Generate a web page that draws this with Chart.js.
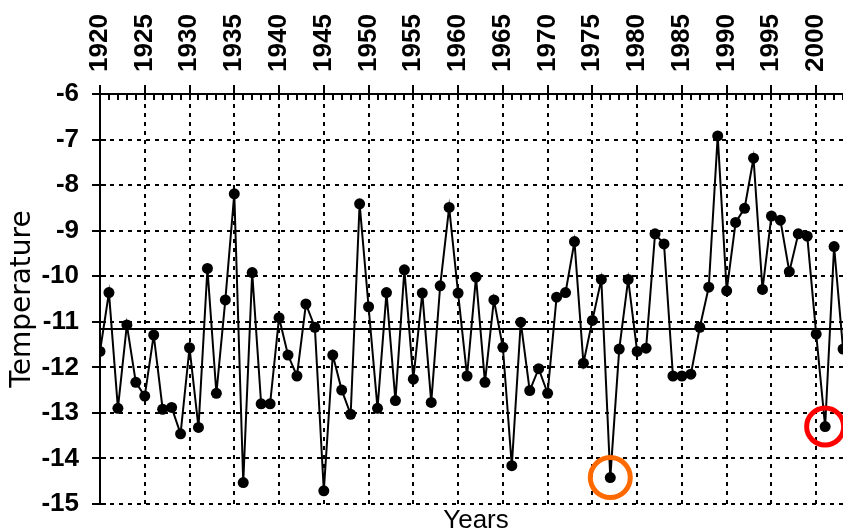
<!DOCTYPE html>
<html>
<head>
<meta charset="utf-8">
<title>Temperature 1920-2003</title>
<script src="https://cdn.jsdelivr.net/npm/chart.js@4.4.1/dist/chart.umd.min.js"></script>
<style>
  html, body { margin: 0; padding: 0; background: #fff; overflow: hidden; }
  #chart { display: block; }
</style>
</head>
<body>
<canvas id="chart" width="852" height="545"></canvas>
<script>
// Yearly temperatures
const YEARS = [
  1920, 1921, 1922, 1923, 1924, 1925, 1926, 1927, 1928, 1929,
  1930, 1931, 1932, 1933, 1934, 1935, 1936, 1937, 1938, 1939,
  1940, 1941, 1942, 1943, 1944, 1945, 1946, 1947, 1948, 1949,
  1950, 1951, 1952, 1953, 1954, 1955, 1956, 1957, 1958, 1959,
  1960, 1961, 1962, 1963, 1964, 1965, 1966, 1967, 1968, 1969,
  1970, 1971, 1972, 1973, 1974, 1975, 1976, 1977, 1978, 1979,
  1980, 1981, 1982, 1983, 1984, 1985, 1986, 1987, 1988, 1989,
  1990, 1991, 1992, 1993, 1994, 1995, 1996, 1997, 1998, 1999,
  2000, 2001, 2002, 2003
];
const TEMPS = [
  -11.65, -10.36, -12.90, -11.07, -12.33, -12.63, -11.29, -12.92, -12.88, -13.46,
  -11.57, -13.32, -9.83, -12.57, -10.52, -8.19, -14.53, -9.92, -12.80, -12.80,
  -10.91, -11.73, -12.19, -10.61, -11.12, -14.71, -11.73, -12.50, -13.03, -8.41,
  -10.67, -12.90, -10.36, -12.73, -9.86, -12.26, -10.37, -12.77, -10.21, -8.49,
  -10.37, -12.19, -10.02, -12.33, -10.52, -11.56, -14.16, -11.01, -12.51, -12.03,
  -12.57, -10.46, -10.36, -9.24, -11.91, -10.97, -10.07, -14.42, -11.60, -10.07,
  -11.65, -11.58, -9.07, -9.29, -12.19, -12.19, -12.15, -11.12, -10.24, -6.92,
  -10.32, -8.82, -8.51, -7.41, -10.29, -8.68, -8.77, -9.90, -9.07, -9.12,
  -11.27, -13.30, -9.35, -11.60
];
const MEAN_TEMP = -11.16;

// Circled years and their ring colours
const MARKED_YEARS = [1977, 2001];
const MARK_COLORS = ['#FF6A00', '#FF0000'];
const MARK_RADII = [20, 18.5];

// Tick labels
const X_TICKS = [1920, 1925, 1930, 1935, 1940, 1945, 1950, 1955, 1960, 1965,
                 1970, 1975, 1980, 1985, 1990, 1995, 2000];
const Y_TICKS = [-15, -14, -13, -12, -11, -10, -9, -8, -7, -6];
const X_MIN = 1920, X_MAX = 2004;

const LABEL_FONT = { family: 'Liberation Sans', size: 26, weight: 'bold' };

// Small inward ticks: one per year on the top axis, one per degree on the left axis
const minorTicks = {
  id: 'minorTicks',
  beforeDatasetsDraw(chart) {
    const { ctx, chartArea, scales } = chart;
    ctx.save();
    ctx.strokeStyle = '#000';
    ctx.lineWidth = 2;
    ctx.beginPath();
    for (let yr = X_MIN; yr <= X_MAX; yr++) {
      const px = Math.round(scales.x.getPixelForValue(yr));
      ctx.moveTo(px, chartArea.top);
      ctx.lineTo(px, chartArea.top + 6);
    }
    Y_TICKS.forEach(v => {
      const py = Math.round(scales.y.getPixelForValue(v));
      ctx.moveTo(chartArea.left, py);
      ctx.lineTo(chartArea.left + 6, py);
    });
    ctx.stroke();
    ctx.restore();
  }
};

// keep the plot box fixed: no extra room reserved for overhanging labels
function noPadding(s) {
  s.paddingLeft = 0;
  s.paddingRight = 0;
  s.paddingTop = 0;
  s.paddingBottom = 0;
}

const points = YEARS.map((yr, i) => ({ x: yr, y: TEMPS[i] }));

const markDatasets = MARKED_YEARS.map((yr, i) => ({
  label: 'mark ' + yr,
  xAxisID: 'x',
  data: [{ x: yr, y: TEMPS[YEARS.indexOf(yr)] }],
  showLine: false,
  pointRadius: MARK_RADII[i],
  pointBorderWidth: 5,
  pointBorderColor: MARK_COLORS[i],
  pointBackgroundColor: 'rgba(0,0,0,0)',
  clip: false,
  order: 0
}));

new Chart(document.getElementById('chart'), {
  type: 'line',
  data: {
    datasets: [
      ...markDatasets,
      {
        label: 'Temperature',
        xAxisID: 'x',
        data: points,
        borderColor: '#000',
        borderWidth: 2,
        pointRadius: 5.5,
        pointBackgroundColor: '#000',
        pointBorderColor: '#000',
        pointBorderWidth: 0,
        tension: 0,
        order: 1
      },
      {
        label: 'Mean',
        xAxisID: 'x',
        data: [{ x: X_MIN, y: MEAN_TEMP }, { x: X_MAX, y: MEAN_TEMP }],
        borderColor: '#000',
        borderWidth: 2,
        pointRadius: 0,
        order: 2
      }
    ]
  },
  options: {
    responsive: false,
    animation: false,
    events: [],
    layout: { padding: 0, autoPadding: false },
    plugins: {
      legend: { display: false },
      tooltip: { enabled: false }
    },
    scales: {
      x: {
        type: 'linear',
        position: 'top',
        min: X_MIN,
        max: X_MAX,
        afterFit: s => { s.height = 94; noPadding(s); },
        afterBuildTicks: s => { s.ticks = X_TICKS.map(v => ({ value: v })); },
        grid: { color: '#000', lineWidth: 2, tickLength: 9 },
        border: { display: true, color: '#000', width: 2, dash: [4, 5] },
        ticks: {
          minRotation: 90,
          maxRotation: 90,
          autoSkip: false,
          padding: 13,
          labelOffset: 31,
          color: '#000',
          font: LABEL_FONT,
          callback: v => String(v)
        }
      },
      x2: {
        type: 'linear',
        position: 'bottom',
        min: X_MIN,
        max: X_MAX,
        afterFit: s => { s.height = 41; noPadding(s); },
        grid: { display: false, drawTicks: false },
        border: { display: false },
        ticks: { display: false },
        title: {
          display: true,
          text: 'Years',
          color: '#000',
          font: { family: 'Liberation Sans', size: 26 },
          padding: { top: 0, bottom: 9 }
        }
      },
      y: {
        min: -15,
        max: -6,
        afterFit: s => { s.width = 100; noPadding(s); },
        afterBuildTicks: s => { s.ticks = Y_TICKS.map(v => ({ value: v })); },
        grid: { color: '#000', lineWidth: 2, tickLength: 8 },
        border: { display: true, color: '#000', width: 2, dash: [4, 5] },
        ticks: {
          padding: 13,
          color: '#000',
          font: LABEL_FONT,
          callback: v => String(v)
        },
        title: {
          display: true,
          text: 'Temperature',
          color: '#000',
          font: { family: 'DejaVu Sans', size: 28 },
          padding: { top: 6, bottom: 0 }
        }
      }
    }
  },
  plugins: [minorTicks]
});
</script>
</body>
</html>
